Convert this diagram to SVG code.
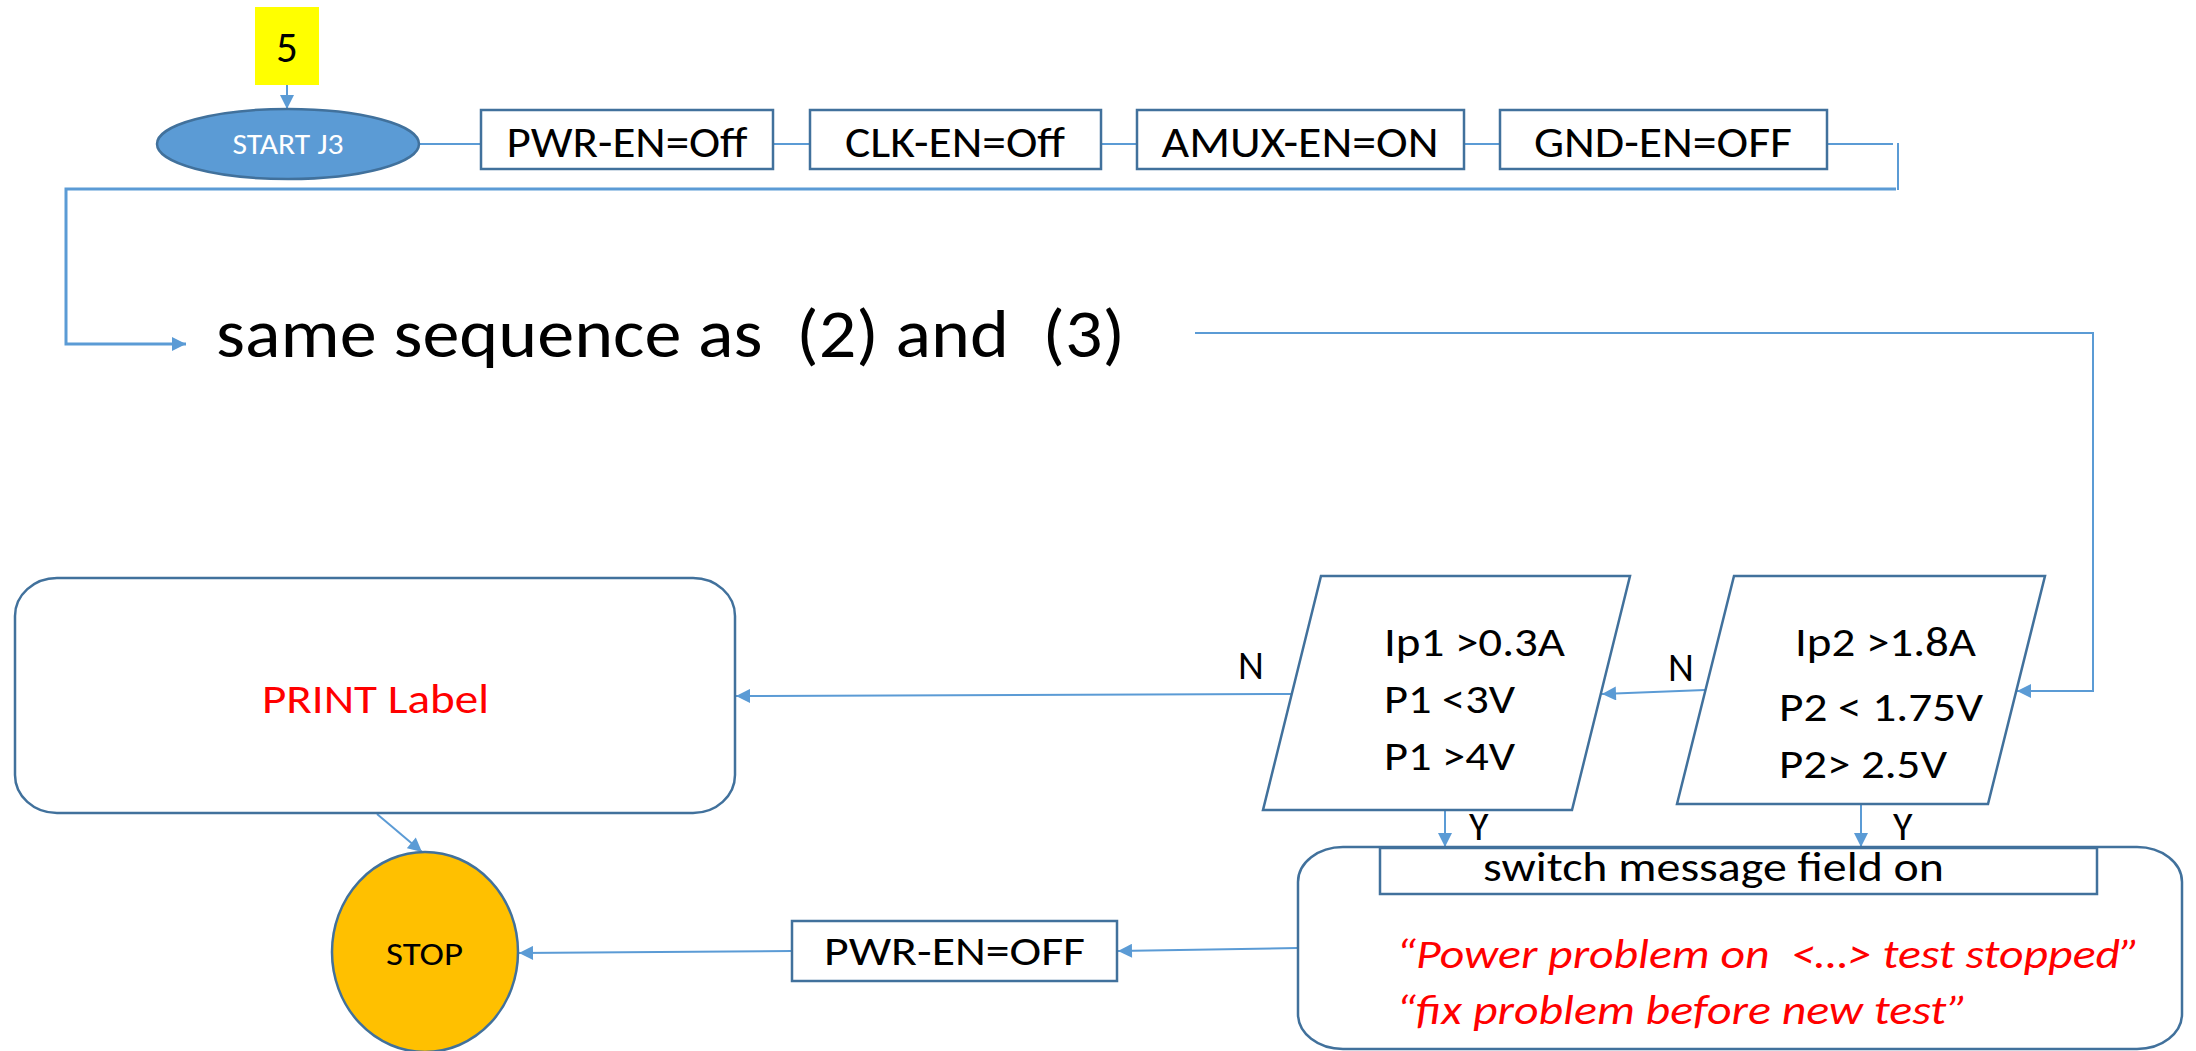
<svg xmlns="http://www.w3.org/2000/svg" width="2196" height="1051" viewBox="0 0 2196 1051">
<style>
  .t { font-family: Carlito, Lato, "Liberation Sans", sans-serif; fill: #000; white-space: pre; }
  .box { fill: #fff; stroke: #41719C; stroke-width: 2.5; }
  .conn { fill: none; stroke: #5B9BD5; stroke-width: 2; }
  .thick { stroke-width: 3; }
  .red { fill: #FF0000; }
</style>
<defs>
  <marker id="arr" viewBox="0 0 10 10" refX="10" refY="5" markerUnits="userSpaceOnUse" markerWidth="15" markerHeight="14" orient="auto">
    <path d="M0,0 L10,5 L0,10 z" fill="#5B9BD5"/>
  </marker>
</defs>
<rect width="2196" height="1051" fill="#fff"/>

<g id="connectors">
  <line class="conn" x1="287" y1="85" x2="287" y2="109" marker-end="url(#arr)"/>
  <line class="conn" x1="419" y1="144" x2="481" y2="144"/>
  <line class="conn" x1="773" y1="144" x2="810" y2="144"/>
  <line class="conn" x1="1101" y1="144" x2="1137" y2="144"/>
  <line class="conn" x1="1464" y1="144" x2="1500" y2="144"/>
  <line class="conn" x1="1827" y1="144" x2="1893" y2="144"/>
  <line class="conn" x1="1898" y1="143" x2="1898" y2="190"/>
  <polyline class="conn thick" points="1896,189 66,189 66,344 186,344" marker-end="url(#arr)"/>
  <polyline class="conn" points="1195,333 2093,333 2093,691 2017,691" marker-end="url(#arr)"/>
  <line class="conn" x1="1705" y1="690" x2="1602" y2="694" marker-end="url(#arr)"/>
  <line class="conn" x1="1292" y1="694" x2="736" y2="696" marker-end="url(#arr)"/>
  <line class="conn" x1="377" y1="814" x2="422" y2="852" marker-end="url(#arr)"/>
  <line class="conn" x1="1445" y1="811" x2="1445" y2="847" marker-end="url(#arr)"/>
  <line class="conn" x1="1861" y1="790" x2="1861" y2="847" marker-end="url(#arr)"/>
  <line class="conn" x1="1298" y1="948" x2="1118" y2="951" marker-end="url(#arr)"/>
  <line class="conn" x1="792" y1="951" x2="519" y2="953" marker-end="url(#arr)"/>
</g>

<g id="label5">
  <rect x="255" y="7" width="64" height="78" fill="#FFFF00"/>
  <text class="t" x="287" y="62" font-size="43" text-anchor="middle">5</text>
</g>

<g id="start">
  <ellipse cx="288" cy="144" rx="131" ry="35" fill="#5B9BD5" stroke="#41719C" stroke-width="2.5"/>
  <text class="t" x="288" y="154" font-size="28" text-anchor="middle" style="fill:#fff" textLength="111" lengthAdjust="spacingAndGlyphs">START J3</text>
</g>

<g id="pwr-en-off">
  <rect class="box" x="481" y="110" width="292" height="59"/>
  <text class="t" x="627" y="157" font-size="44" text-anchor="middle" textLength="241" lengthAdjust="spacingAndGlyphs">PWR-EN=Off</text>
</g>
<g id="clk-en-off">
  <rect class="box" x="810" y="110" width="291" height="59"/>
  <text class="t" x="955" y="157" font-size="44" text-anchor="middle" textLength="220" lengthAdjust="spacingAndGlyphs">CLK-EN=Off</text>
</g>
<g id="amux-en-on">
  <rect class="box" x="1137" y="110" width="327" height="59"/>
  <text class="t" x="1300" y="157" font-size="44" text-anchor="middle" textLength="277" lengthAdjust="spacingAndGlyphs">AMUX-EN=ON</text>
</g>
<g id="gnd-en-off">
  <rect class="box" x="1500" y="110" width="327" height="59"/>
  <text class="t" x="1663" y="157" font-size="44" text-anchor="middle" textLength="258" lengthAdjust="spacingAndGlyphs">GND-EN=OFF</text>
</g>

<g id="same-sequence">
  <text class="t" x="216" y="357" font-size="67" textLength="909" lengthAdjust="spacingAndGlyphs">same sequence as  (2) and  (3)</text>
</g>

<g id="check-p2">
  <polygon class="box" points="1734,576 2045,576 1988,804 1677,804"/>
  <text class="t" x="1795" y="656" font-size="42" textLength="181" lengthAdjust="spacingAndGlyphs">Ip2 &gt;1.8A</text>
  <text class="t" x="1779" y="721" font-size="42" textLength="204" lengthAdjust="spacingAndGlyphs">P2 &lt; 1.75V</text>
  <text class="t" x="1779" y="778" font-size="42" textLength="168" lengthAdjust="spacingAndGlyphs">P2&gt; 2.5V</text>
</g>

<g id="check-p1">
  <polygon class="box" points="1321,576 1630,576 1572,810 1263,810"/>
  <text class="t" x="1384" y="656" font-size="42" textLength="181" lengthAdjust="spacingAndGlyphs">Ip1 &gt;0.3A</text>
  <text class="t" x="1384" y="713" font-size="42" textLength="131" lengthAdjust="spacingAndGlyphs">P1 &lt;3V</text>
  <text class="t" x="1384" y="770" font-size="42" textLength="131" lengthAdjust="spacingAndGlyphs">P1 &gt;4V</text>
</g>

<g id="edge-labels">
  <text class="t" x="1238" y="679" font-size="40">N</text>
  <text class="t" x="1668" y="681" font-size="40">N</text>
  <text class="t" x="1469" y="840" font-size="40">Y</text>
  <text class="t" x="1893" y="840" font-size="40">Y</text>
</g>

<g id="print-label">
  <rect class="box" x="15" y="578" width="720" height="235" rx="42" ry="38"/>
  <text class="t red" x="262" y="713" font-size="42" textLength="227" lengthAdjust="spacingAndGlyphs">PRINT Label</text>
</g>

<g id="stop">
  <ellipse cx="425" cy="952" rx="93" ry="100" fill="#FFC000" stroke="#41719C" stroke-width="2.5"/>
  <text class="t" x="386" y="965" font-size="32" textLength="77" lengthAdjust="spacingAndGlyphs">STOP</text>
</g>

<g id="pwr-en-off-2">
  <rect class="box" x="792" y="921" width="325" height="60"/>
  <text class="t" x="824" y="965" font-size="41" textLength="261" lengthAdjust="spacingAndGlyphs">PWR-EN=OFF</text>
</g>

<g id="message">
  <rect class="box" x="1298" y="847" width="884" height="202" rx="45" ry="35"/>
  <rect class="box" x="1380" y="848" width="717" height="46"/>
  <text class="t" x="1483" y="881" font-size="40" textLength="461" lengthAdjust="spacingAndGlyphs">switch message field on</text>
  <text class="t red" x="1396" y="968" font-size="40" font-style="italic" textLength="744" lengthAdjust="spacingAndGlyphs">“Power problem on  &lt;…&gt; test stopped”</text>
  <text class="t red" x="1396" y="1024" font-size="40" font-style="italic" textLength="572" lengthAdjust="spacingAndGlyphs">“fix problem before new test”</text>
</g>
</svg>
